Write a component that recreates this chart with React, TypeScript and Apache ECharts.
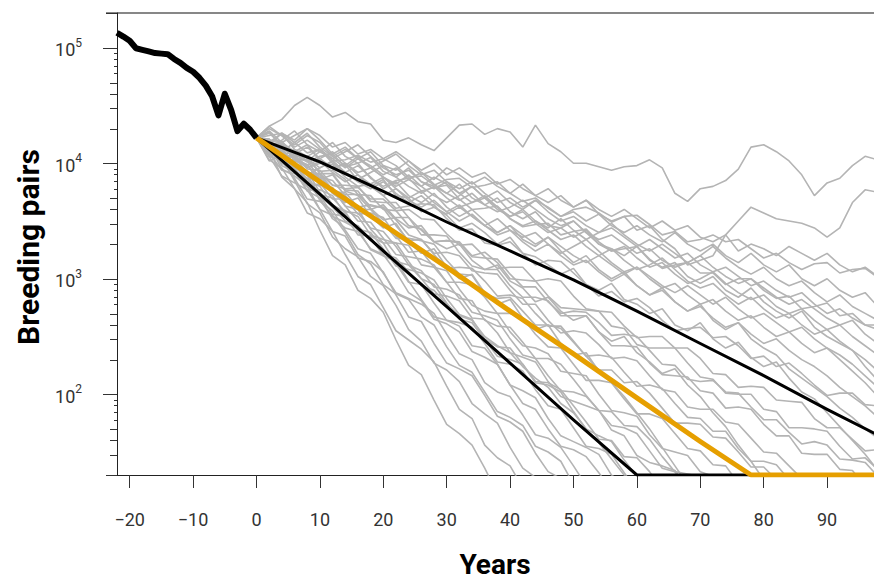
import React, { useEffect, useRef } from 'react';
import * as echarts from 'echarts';

// Historical counts (breeding pairs), years -22..0
const histYears = [-22, -21, -20, -19, -18, -17, -16, -15, -14, -13, -12, -11, -10, -9, -8, -7, -6, -5, -4, -3, -2, -1, 0];
const histPairs = [135000, 125000, 115000, 99000, 96000, 93000, 90000, 89000, 88000, 80000, 74000, 67000, 62000, 55000, 47000, 38000, 26000, 40000, 29000, 19000, 22000, 19500, 16600];

// Projection summary lines
const upperYears = [0, 10, 20, 30, 40, 50, 60, 70, 80, 90, 100];
const upperPairs = [16600, 10300, 5700, 3100, 1740, 980, 525, 275, 145, 74, 39];
const medianYears = [0, 10, 20, 30, 40, 50, 60, 70, 78, 100];
const medianPairs = [16600, 6900, 2950, 1260, 525, 224, 93, 39, 20, 20];
const lowerYears = [0, 10, 20, 30, 40, 50, 60, 100];
const lowerPairs = [16600, 5400, 1740, 575, 186, 60, 20, 20];

// Axis ticks
const xTickValues = [-20, -10, 0, 10, 20, 30, 40, 50, 60, 70, 80, 90];
const yPowerTicks = [100, 1000, 10000, 100000];
const yEdgeTicks = [20, 200000];
const yMinorMantissas = [2, 3, 4, 5, 6, 7, 8, 9];
const yDecades = [10, 100, 1000, 10000, 100000];

// Simulated trajectories: years and log10(breeding pairs)
const simYears = [0, 2, 4, 6, 8, 10, 12, 14, 16, 18, 20, 22, 24, 26, 28, 30, 32, 34, 36, 38, 40, 42, 44, 46, 48, 50, 52, 54, 56, 58, 60, 62, 64, 66, 68, 70, 72, 74, 76, 78, 80, 82, 84, 86, 88, 90, 92, 94, 96, 98, 100];
const simLog10: number[][] = [
  [4.22,4.32,4.38,4.50,4.57,4.50,4.40,4.44,4.36,4.34,4.20,4.18,4.22,4.16,4.11,4.22,4.33,4.34,4.25,4.30,4.27,4.14,4.33,4.17,4.10,4.00,4.00,3.97,3.94,3.97,3.98,4.03,3.96,3.74,3.67,3.78,3.80,3.85,3.95,4.14,4.16,4.10,4.02,3.90,3.72,3.83,3.87,3.98,4.06,4.03,4.01],
  [4.22,4.16,4.26,4.20,4.30,4.24,4.14,4.18,4.08,4.12,4.04,4.10,4.02,3.94,4.00,3.90,3.96,3.88,3.92,3.82,3.86,3.78,3.72,3.78,3.68,3.62,3.68,3.56,3.50,3.54,3.42,3.46,3.34,3.26,3.12,3.16,3.20,3.38,3.50,3.62,3.57,3.52,3.50,3.48,3.44,3.36,3.44,3.66,3.77,3.75,3.74],
  [4.22,4.30,4.24,4.16,4.24,4.18,4.06,4.12,4.04,4.10,3.98,3.94,4.02,3.92,3.86,3.96,3.90,3.82,3.88,3.80,3.74,3.82,3.72,3.66,3.72,3.62,3.68,3.60,3.54,3.60,3.52,3.44,3.50,3.42,3.46,3.36,3.32,3.38,3.24,3.30,3.26,3.20,3.28,3.22,3.16,3.22,3.12,3.06,3.10,3.02,3.00],
  [4.22,4.12,4.18,4.10,4.02,4.10,4.04,3.96,4.04,3.98,3.90,3.96,3.86,3.80,3.88,3.82,3.74,3.80,3.70,3.76,3.66,3.60,3.68,3.62,3.54,3.58,3.50,3.56,3.46,3.40,3.46,3.38,3.32,3.40,3.30,3.24,3.30,3.20,3.14,3.22,3.12,3.06,3.12,3.00,2.94,3.00,2.90,2.84,2.88,2.76,2.72],
  [4.22,4.28,4.18,4.24,4.30,4.20,4.08,4.14,4.04,3.96,4.02,4.08,3.98,3.90,3.94,3.84,3.78,3.84,3.74,3.66,3.70,3.62,3.68,3.58,3.50,3.54,3.46,3.40,3.44,3.36,3.28,3.34,3.26,3.18,3.22,3.12,3.06,3.10,3.02,2.94,2.98,2.90,2.84,2.88,2.78,2.70,2.74,2.66,2.60,2.56,2.54],
  [4.22,4.10,4.16,4.06,3.98,4.04,4.10,4.00,3.92,3.96,3.88,3.80,3.86,3.92,3.82,3.74,3.68,3.74,3.64,3.58,3.62,3.68,3.60,3.52,3.46,3.50,3.40,3.34,3.38,3.30,3.22,3.26,3.16,3.10,3.14,3.20,3.10,3.02,2.96,3.00,2.92,2.84,2.78,2.82,2.74,2.66,2.60,2.64,2.52,2.44,2.40],
  [4.22,4.32,4.24,4.14,4.20,4.12,4.04,4.10,4.16,4.06,3.96,3.90,3.94,3.84,3.78,3.84,3.74,3.66,3.70,3.60,3.54,3.58,3.48,3.40,3.44,3.50,3.40,3.30,3.24,3.28,3.18,3.10,3.14,3.04,2.96,3.00,3.06,2.96,2.88,2.82,2.86,2.76,2.70,2.74,2.64,2.56,2.60,2.50,2.42,2.34,2.30],
  [4.22,4.14,4.06,4.12,4.04,3.96,4.02,3.92,3.86,3.92,3.98,3.88,3.80,3.74,3.80,3.70,3.62,3.66,3.72,3.62,3.52,3.46,3.50,3.42,3.34,3.38,3.28,3.20,3.26,3.16,3.08,3.12,3.18,3.08,2.98,2.92,2.96,2.86,2.78,2.84,2.74,2.66,2.70,2.60,2.52,2.56,2.46,2.38,2.30,2.20,2.16],
  [4.22,4.26,4.16,4.08,4.14,4.04,3.96,4.00,3.90,3.82,3.88,3.78,3.70,3.76,3.66,3.58,3.64,3.54,3.46,3.52,3.42,3.36,3.40,3.30,3.22,3.28,3.34,3.24,3.14,3.06,3.10,3.00,2.92,2.96,2.86,2.78,2.82,2.72,2.64,2.68,2.58,2.50,2.54,2.44,2.36,2.40,2.30,2.20,2.10,1.98,1.94],
  [4.22,4.08,4.14,4.04,3.96,4.02,3.92,3.84,3.90,3.80,3.72,3.78,3.68,3.62,3.68,3.58,3.50,3.56,3.46,3.38,3.42,3.32,3.24,3.30,3.20,3.12,3.16,3.06,2.98,3.04,2.94,2.86,2.90,2.80,2.72,2.76,2.66,2.58,2.62,2.52,2.44,2.48,2.38,2.30,2.24,2.16,2.06,1.98,1.90,1.80,1.74],
  [4.22,4.18,4.10,4.18,4.26,4.14,4.06,3.98,4.06,3.96,3.88,3.82,3.90,3.80,3.72,3.66,3.72,3.80,3.70,3.62,3.54,3.60,3.50,3.44,3.52,3.42,3.34,3.40,3.48,3.38,3.30,3.24,3.30,3.22,3.14,3.20,3.28,3.18,3.10,3.04,3.10,3.00,2.94,2.98,2.88,2.80,2.86,2.76,2.70,2.64,2.62],
  [4.22,4.02,4.08,3.98,3.90,3.96,4.02,3.92,3.84,3.78,3.84,3.74,3.66,3.72,3.62,3.56,3.62,3.54,3.46,3.40,3.46,3.38,3.30,3.36,3.28,3.20,3.14,3.20,3.12,3.04,3.10,3.02,2.94,2.88,2.94,2.86,2.78,2.84,2.74,2.66,2.70,2.62,2.54,2.58,2.48,2.40,2.34,2.26,2.16,2.06,2.00],
  [4.22,4.12,3.88,3.78,3.66,3.42,3.20,3.12,2.90,2.83,2.71,2.47,2.25,2.17,1.95,1.74,1.66,1.56,1.36,1.14],
  [4.22,4.03,3.96,3.78,3.57,3.52,3.41,3.21,3.02,2.95,2.75,2.55,2.47,2.39,2.28,2.07,1.87,1.79,1.56,1.45,1.38,1.19],
  [4.22,4.13,4.04,3.85,3.65,3.57,3.36,3.26,3.19,3.02,2.94,2.77,2.56,2.46,2.27,2.21,2.11,1.92,1.83,1.75,1.54,1.36,1.28,1.08],
  [4.22,4.16,3.95,3.89,3.80,3.60,3.41,3.37,3.18,3.15,3.06,2.86,2.67,2.63,2.44,2.27,2.22,2.16,1.99,1.81,1.76,1.68,1.49,1.33,1.27,1.09],
  [4.22,4.06,4.02,3.87,3.69,3.67,3.59,3.42,3.26,3.22,3.05,2.88,2.83,2.78,2.70,2.52,2.35,2.30,2.10,2.02,1.98,1.82,1.65,1.62,1.54,1.38,1.21,1.05],
  [4.22,4.15,4.09,3.93,3.76,3.70,3.52,3.44,3.41,3.26,3.21,3.06,2.88,2.81,2.65,2.61,2.54,2.37,2.32,2.26,2.08,1.92,1.87,1.70,1.55,1.52,1.46,1.32,1.17],
  [4.22,4.18,4.00,3.96,3.90,3.72,3.56,3.54,3.38,3.37,3.31,3.13,2.97,2.95,2.79,2.64,2.62,2.58,2.44,2.28,2.26,2.20,2.04,1.90,1.87,1.71,1.55,1.53,1.48,1.32,1.17],
  [4.22,4.08,4.06,3.93,3.77,3.77,3.72,3.56,3.43,3.40,3.26,3.11,3.08,3.05,2.99,2.83,2.69,2.65,2.48,2.41,2.40,2.26,2.11,2.10,2.04,1.90,1.76,1.61,1.60,1.46,1.45,1.33,1.17],
  [4.22,4.17,4.13,3.99,3.84,3.80,3.64,3.58,3.57,3.44,3.41,3.28,3.12,3.07,2.93,2.91,2.86,2.71,2.68,2.64,2.48,2.34,2.31,2.16,2.03,2.02,1.98,1.86,1.73,1.71,1.66,1.51,1.36,1.33,1.18],
  [4.22,4.08,4.08,3.93,3.81,3.81,3.79,3.63,3.60,3.43,3.31,3.31,3.29,3.12,3.10,3.07,2.91,2.77,2.72,2.70,2.54,2.42,2.40,2.35,2.20,2.18,2.16,2.00,1.86,1.84,1.81,1.65,1.53,1.50,1.47,1.33,1.29,1.14],
  [4.22,4.18,4.01,3.96,3.93,3.75,3.62,3.59,3.54,3.38,3.34,3.31,3.15,3.00,2.87,2.85,2.81,2.66,2.65,2.53,2.36,2.32,2.28,2.11,1.98,1.94,1.90,1.86,1.69,1.64,1.47,1.41,1.38,1.34,1.18],
  [4.22,4.06,3.89,3.83,3.77,3.60,3.55,3.40,3.21,3.13,2.95,2.87,2.82,2.67,2.60,2.41,2.25,2.19,2.02,1.85,1.80,1.73,1.55,1.50,1.42,1.22,1.10],
  [4.22,4.20,4.04,4.03,3.99,3.83,3.69,3.69,3.56,3.57,3.53,3.37,3.23,3.24,3.10,2.97,2.97,2.95,2.84,2.70,2.70,2.66,2.52,2.41,2.40,2.26,2.12,2.12,2.10,1.96,1.83,1.83,1.79,1.66,1.53,1.51,1.39,1.38,1.23,1.11],
  [4.22,4.10,4.11,3.99,3.86,3.88,3.85,3.72,3.60,3.60,3.48,3.35,3.35,3.33,3.30,3.16,3.04,3.03,2.87,2.83,2.84,2.72,2.60,2.60,2.57,2.45,2.33,2.21,2.21,2.10,2.11,2.01,1.88,1.75,1.75,1.74,1.63,1.62,1.50,1.37,1.37,1.26,1.27,1.14],
  [4.22,4.19,4.18,4.05,3.92,3.91,3.77,3.73,3.73,3.63,3.62,3.51,3.38,3.34,3.22,3.23,3.20,3.07,3.05,3.04,2.90,2.78,2.78,2.64,2.53,2.55,2.53,2.43,2.31,2.32,2.29,2.16,2.04,2.02,1.89,1.87,1.87,1.76,1.74,1.62,1.50,1.49,1.38,1.27,1.28,1.25,1.12],
  [4.22,4.10,4.12,3.99,3.89,3.91,3.91,3.77,3.76,3.61,3.51,3.53,3.53,3.38,3.38,3.37,3.23,3.11,3.08,3.08,2.94,2.84,2.84,2.81,2.68,2.68,2.68,2.54,2.42,2.42,2.41,2.27,2.17,2.16,2.15,2.03,2.01,1.88,1.89,1.87,1.74,1.64,1.64,1.49,1.48,1.48,1.35,1.34,1.20,1.18],
  [4.22,4.21,4.07,4.06,4.06,3.91,3.81,3.81,3.80,3.67,3.66,3.66,3.53,3.42,3.32,3.33,3.32,3.20,3.23,3.14,3.00,2.99,2.98,2.85,2.75,2.74,2.73,2.72,2.59,2.57,2.43,2.40,2.40,2.40,2.27,2.15,2.13,2.01,2.00,2.00,1.87,1.85,1.71,1.71,1.70,1.68,1.55,1.44,1.45,1.35,1.34],
  [4.22,4.13,4.02,4.03,4.03,3.93,3.94,3.86,3.73,3.72,3.60,3.59,3.60,3.52,3.51,3.39,3.29,3.30,3.19,3.09,3.10,3.10,2.98,3.00,2.98,2.85,2.74,2.72,2.71,2.59,2.49,2.50,2.50,2.40,2.40,2.31,2.18,2.17,2.06,2.07,2.06,1.95,1.94,1.93,1.79,1.71,1.71,1.61,1.51,1.52,1.49],
  [4.22,4.09,4.08,3.96,3.81,3.82,3.77,3.63,3.50,3.49,3.35,3.21,3.19,3.17,3.12,2.97,2.83,2.81,2.64,2.59,2.58,2.45,2.31,2.31,2.26,2.13,1.99,1.86,1.85,1.73,1.72,1.61,1.46,1.33,1.31,1.29,1.16],
  [4.22,4.21,4.06,4.05,4.02,3.87,3.74,3.75,3.62,3.64,3.61,3.46,3.33,3.34,3.21,3.09,3.10,3.09,2.98,2.85,2.86,2.83,2.70,2.59,2.59,2.46,2.33,2.34,2.32,2.19,2.07,2.08,2.05,1.92,1.80,1.79,1.68,1.68,1.53,1.42,1.42,1.39,1.26,1.27,1.15],
  [4.22,4.17,3.98,3.92,3.87,3.68,3.54,3.49,3.43,3.25,3.20,3.16,2.98,2.82,2.67,2.64,2.59,2.42,2.40,2.26,2.08,2.03,1.97,1.79,1.64,1.59,1.54,1.48,1.30,1.23,1.05],
  [4.22,4.20,4.19,4.07,3.95,3.94,3.81,3.78,3.79,3.69,3.69,3.59,3.46,3.43,3.32,3.33,3.31,3.19,3.18,3.17,3.04,2.93,2.93,2.80,2.70,2.72,2.71,2.62,2.51,2.52,2.50,2.38,2.26,2.25,2.13,2.11,2.12,2.02,2.01,1.89,1.78,1.78,1.67,1.57,1.59,1.56,1.44,1.43,1.41,1.29,1.20],
  [4.22,4.12,4.15,4.07,3.96,4.00,3.99,3.88,3.80,3.82,3.72,3.61,3.63,3.65,3.64,3.52,3.42,3.43,3.31,3.29,3.32,3.22,3.12,3.16,3.15,3.05,2.95,2.85,2.89,2.80,2.83,2.75,2.64,2.55,2.57,2.58,2.49,2.50,2.42,2.31,2.33,2.24,2.27,2.18,2.08,1.99,2.01,2.01,1.91,1.90,1.80],
  [4.22,4.24,4.26,4.18,4.09,4.12,4.02,4.03,4.07,4.01,4.04,3.98,3.88,3.89,3.81,3.86,3.87,3.79,3.81,3.84,3.74,3.67,3.70,3.61,3.54,3.60,3.62,3.57,3.49,3.54,3.55,3.47,3.38,3.41,3.32,3.34,3.38,3.32,3.34,3.26,3.18,3.22,3.14,3.08,3.13,3.14,3.05,3.08,3.09,3.01,2.95],
  [4.22,4.13,4.17,4.08,4.01,4.06,4.08,3.97,4.00,3.87,3.80,3.85,3.87,3.76,3.79,3.81,3.69,3.60,3.61,3.63,3.52,3.45,3.47,3.48,3.38,3.41,3.43,3.32,3.24,3.26,3.28,3.17,3.09,3.12,3.14,3.05,3.05,2.95,3.00,3.00,2.90,2.83,2.85,2.74,2.76,2.79,2.68,2.70,2.60,2.60,2.61],
  [4.22,4.09,3.94,3.91,3.87,3.73,3.70,3.58,3.41,3.36,3.20,3.15,3.12,3.00,2.95,2.79,2.65,2.62,2.47,2.33,2.30,2.26,2.10,2.08,2.02,1.85,1.70,1.64,1.59,1.43,1.29,1.15],
  [4.22,4.27,4.15,4.10,4.16,4.02,3.96,3.99,3.85,3.80,3.86,3.72,3.70,3.58,3.62,3.55,3.44,3.48,3.40,3.30,3.36,3.22,3.19,3.12,3.04,3.09,2.95,2.90,2.96,2.82,2.78,2.70,2.74,2.60,2.55,2.62,2.48,2.40,2.45,2.32,2.24,2.28,2.14,2.02,1.96,1.84,1.72,1.60,1.48,1.34,1.20],
  [4.22,4.14,4.20,4.28,4.16,4.10,4.18,4.06,4.00,4.05,3.93,3.88,3.96,3.84,3.80,3.74,3.82,3.70,3.64,3.70,3.58,3.52,3.58,3.46,3.44,3.36,3.42,3.30,3.26,3.20,3.28,3.16,3.10,3.14,3.02,2.96,3.02,2.90,2.84,2.92,2.80,2.72,2.66,2.72,2.58,2.50,2.44,2.38,2.24,2.12,2.04],
  [4.22,4.14,4.18,4.02,3.98,3.86,3.90,3.76,3.72,3.60,3.64,3.52,3.44,3.46,3.32,3.26,3.30,3.16,3.08,3.12,2.98,2.92,2.80,2.84,2.72,2.64,2.68,2.54,2.46,2.50,2.36,2.28,2.18,2.22,2.08,1.98,1.84,1.72,1.56,1.42,1.26,1.12],
  [4.22,4.10,4.00,3.94,3.80,3.72,3.62,3.50,3.46,3.34,3.22,3.18,3.06,2.94,2.90,2.78,2.68,2.64,2.50,2.42,2.36,2.24,2.14,2.06,1.92,1.84,1.70,1.58,1.44,1.30,1.16],
  [4.22,4.18,4.26,4.12,4.06,4.12,4.00,3.92,3.98,3.88,3.78,3.84,3.72,3.66,3.74,3.62,3.54,3.60,3.50,3.40,3.46,3.34,3.28,3.36,3.24,3.14,3.20,3.08,3.00,3.06,2.94,2.86,2.92,2.80,2.72,2.78,2.64,2.56,2.62,2.48,2.40,2.34,2.22,2.14,2.06,1.98,1.88,1.80,1.70,1.62,1.54],
  [4.22,4.06,4.10,3.98,3.86,3.90,3.74,3.66,3.70,3.54,3.44,3.48,3.32,3.22,3.26,3.10,3.00,3.04,2.88,2.78,2.82,2.66,2.56,2.60,2.44,2.34,2.36,2.20,2.10,1.98,1.84,1.70,1.54,1.38,1.22],
];

const X_MIN = -22;
const X_MAX = 97.4;
const Y_MIN = 20;
const Y_MAX = 200000;

const pairs = (xs: number[], ys: number[]) => xs.map((x, i) => [x, ys[i]]);

export default function App() {
  const ref = useRef<HTMLDivElement>(null);

  useEffect(() => {
    document.body.style.margin = '0';
    if (!ref.current) return;
    const chart = echarts.init(ref.current, undefined, { renderer: 'svg' });

    const simSeries = simLog10.map((line, k) => ({
      type: 'line',
      name: 'sim' + k,
      data: line.filter((_, i) => i < simYears.length).map((v, i) => [simYears[i], Math.pow(10, v)]),
      showSymbol: false,
      symbol: 'none',
      silent: true,
      z: 2,
      lineStyle: { color: '#b4b4b4', width: 1.6 },
    }));

    const yTickData: number[][] = [];
    yPowerTicks.forEach((v) => yTickData.push([X_MIN, v, 14]));
    yEdgeTicks.forEach((v) => yTickData.push([X_MIN, v, 11]));
    yDecades.forEach((d) =>
      yMinorMantissas.forEach((m) => {
        const v = m * d;
        if (v > Y_MIN && v < Y_MAX) yTickData.push([X_MIN, v, m <= 5 ? 7 : 3]);
      })
    );

    const option: any = {
      animation: false,
      grid: { left: 117, right: 0, top: 13, bottom: 107, containLabel: false },
      xAxis: {
        type: 'value',
        min: X_MIN,
        max: X_MAX,
        axisLine: { show: true, onZero: false, lineStyle: { color: '#222', width: 1 } },
        axisTick: { show: true, length: 13, customValues: xTickValues, lineStyle: { color: '#333', width: 1 } },
        axisLabel: {
          customValues: xTickValues,
          margin: 35,
          color: '#333',
          fontSize: 18,
          fontFamily: 'Roboto',
          formatter: (v: number) => String(v).replace('-', '\u2212'),
        },
        splitLine: { show: false },
      },
      yAxis: {
        type: 'log',
        logBase: 10,
        min: Y_MIN,
        max: Y_MAX,
        axisLine: { show: true, onZero: false, lineStyle: { color: '#222', width: 1 } },
        axisTick: { show: false },
        splitLine: { show: false },
        axisLabel: {
          margin: 35,
          color: '#333',
          fontFamily: 'Roboto',
          formatter: (v: number) => {
            const e = Math.log10(v);
            const r = Math.round(e);
            if (Math.abs(e - r) > 0.01) return '';
            return '{b|10}{s|' + r + '}';
          },
          rich: {
            b: { fontSize: 18, lineHeight: 22, color: '#333', fontFamily: 'Roboto', verticalAlign: 'bottom' },
            s: { fontSize: 12, lineHeight: 11, color: '#333', fontFamily: 'Roboto', verticalAlign: 'top' },
          },
        },
      },
      graphic: [
        { type: 'line', shape: { x1: 106, y1: 13, x2: 874, y2: 13 }, style: { stroke: '#111', lineWidth: 1.2 }, silent: true },
        {
          type: 'text',
          x: 28,
          y: 247,
          rotation: Math.PI / 2,
          style: { text: 'Breeding pairs', fontSize: 30, fontWeight: 'bold', fontFamily: 'Roboto', fill: '#000', align: 'center', verticalAlign: 'middle' },
          silent: true,
        },
        {
          type: 'text',
          x: 495,
          y: 564,
          style: { text: 'Years', fontSize: 28, fontWeight: 'bold', fontFamily: 'Roboto', fill: '#000', align: 'center', verticalAlign: 'middle' },
          silent: true,
        },
      ],
      series: [
        ...simSeries,
        {
          type: 'line',
          name: 'upper',
          data: pairs(upperYears, upperPairs),
          showSymbol: false,
          symbol: 'none',
          silent: true,
          z: 3,
          lineStyle: { color: '#000', width: 3, join: 'round' },
        },
        {
          type: 'line',
          name: 'lower',
          data: pairs(lowerYears, lowerPairs),
          showSymbol: false,
          symbol: 'none',
          silent: true,
          z: 3,
          lineStyle: { color: '#000', width: 3, join: 'round' },
        },
        {
          type: 'line',
          name: 'median',
          data: pairs(medianYears, medianPairs),
          showSymbol: false,
          symbol: 'none',
          silent: true,
          z: 4,
          lineStyle: { color: '#E69F00', width: 5, join: 'round' },
        },
        {
          type: 'line',
          name: 'history',
          data: pairs(histYears, histPairs),
          showSymbol: false,
          symbol: 'none',
          silent: true,
          z: 5,
          lineStyle: { color: '#000', width: 6, join: 'round' },
        },
        {
          type: 'custom',
          name: 'yticks',
          silent: true,
          clip: false,
          z: 6,
          dimensions: ['x', 'y', 'len'],
          encode: { x: 'x', y: 'y' },
          data: yTickData,
          renderItem: (params: any, api: any) => {
            const p = api.coord([api.value(0), api.value(1)]);
            const len = api.value(2);
            const y = Math.round(p[1]) + 0.5;
            return {
              type: 'line',
              shape: { x1: p[0] - len, y1: y, x2: p[0], y2: y },
              style: { stroke: '#333', lineWidth: 1 },
            };
          },
        },
      ],
    };

    chart.setOption(option);
    return () => chart.dispose();
  }, []);

  return <div ref={ref} style={{ width: 874, height: 582 }} />;
}
